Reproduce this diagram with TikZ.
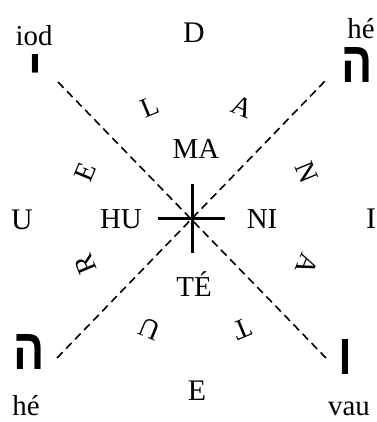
\documentclass[tikz,border=0pt]{standalone}
\usepackage{fontspec}
\setmainfont{Liberation Serif}
\newfontfamily\hebfont[Script=Hebrew]{Liberation Sans}
\usetikzlibrary{calc}

\begin{document}
\begin{tikzpicture}[
    x=1bp, y=1bp,
    % --- Text styles ---
    lbl/.style={inner sep=0pt, anchor=base, font=\fontsize{29}{29}\selectfont},
    pole/.style={lbl, font=\fontsize{30}{30}\selectfont},
    ring/.style={inner sep=0pt, font=\fontsize{28}{28}\selectfont},
    heb/.style={inner sep=0pt, anchor=base, xscale=0.8,
        text height=0.7em, text depth=0pt,
        font=\hebfont\bfseries\fontsize{58}{58}\selectfont},
    % --- Line styles ---
    axis/.style={line width=1.6bp, dash pattern=on 8bp off 5bp},
    crossbar/.style={line width=3bp},
]

\useasboundingbox (0,0) rectangle (377,422);

% =============================================
% CENTRE: dashed diagonals and the cross
% =============================================

\coordinate (ctr)  at (192, 203);
\coordinate (ring) at (196, 204);

\coordinate (nw) at (58, 340);
\coordinate (se) at (326, 64);
\coordinate (ne) at (326, 342);
\coordinate (sw) at (57, 64);

\draw[axis] (nw) -- (se);
\draw[axis] (sw) -- (ne);

\coordinate (cw) at (158, 203);
\coordinate (ce) at (225, 203);
\coordinate (cn) at (192, 238);
\coordinate (cs) at (192, 169);

\draw[crossbar] (cw) -- (ce);
\draw[crossbar] (cn) -- (cs);

% =============================================
% INNER SYLLABLES
% =============================================

\node[lbl] (ma) at (196, 264) {MA};
\node[lbl] (hu) at (121, 194) {HU};
\node[lbl] (ni) at (262, 194) {NI};
\node[lbl] (te) at (194, 126) {TÉ};

% =============================================
% RING: LA NATURE
% =============================================

\node[ring, rotate=22.5]   (rL)  at ($(ring)+(112.5:120)$)  {L};
\node[ring, rotate=-22.5]  (rA)  at ($(ring)+(67.5:120)$)   {A};
\node[ring, rotate=-67.5]  (rN)  at ($(ring)+(22.5:120)$)   {N};
\node[ring, rotate=-112.5] (rA2) at ($(ring)+(-22.5:120)$)  {A};
\node[ring, rotate=-157.5] (rT)  at ($(ring)+(-67.5:120)$)  {T};
\node[ring, rotate=157.5]  (rU)  at ($(ring)+(-112.5:120)$) {U};
\node[ring, rotate=112.5]  (rR)  at ($(ring)+(-157.5:120)$) {R};
\node[ring, rotate=67.5]   (rE)  at ($(ring)+(157.5:120)$)  {E};

% =============================================
% OUTER LETTERS
% =============================================

\node[pole] (d) at (194, 380) {D};
\node[pole] (u) at (22, 193)  {U};
\node[pole] (i) at (371, 194) {I};
\node[pole] (e) at (197, 22)  {E};

% =============================================
% HEBREW CORNERS
% =============================================

\node[heb] (yod) at (35, 333)  {י};
\node[heb] (he1) at (357, 340) {ה};
\node[heb] (he2) at (29, 53)   {ה};
\node[heb] (vav) at (345, 48)  {ו};

\node[lbl] (yodname) at (34, 377) {iod};
\node[lbl] (he1name) at (361, 384) {hé};
\node[lbl] (he2name) at (26, 7)   {hé};
\node[lbl] (vavname) at (349, 7)  {vau};

\end{tikzpicture}
\end{document}
